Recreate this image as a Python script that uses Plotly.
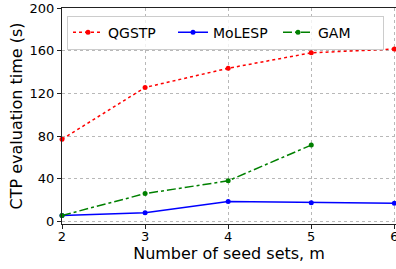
import plotly.graph_objects as go

seed_sets = [2, 3, 4, 5, 6]
qgstp = [77, 125.5, 143.5, 158, 161.5]
molesp = [5.5, 8, 18.5, 17.5, 17]
gam_x = [2, 3, 4, 5]
gam = [5.5, 26, 38, 71.5]

fig = go.Figure()
fig.add_trace(go.Scatter(x=seed_sets, y=qgstp, name="QGSTP", mode="lines+markers",
                         line=dict(color="red", dash="dot", width=1.5),
                         marker=dict(size=5, color="red"), cliponaxis=False))
fig.add_trace(go.Scatter(x=seed_sets, y=molesp, name="MoLESP", mode="lines+markers",
                         line=dict(color="blue", width=1.5),
                         marker=dict(size=5, color="blue"), cliponaxis=False))
fig.add_trace(go.Scatter(x=gam_x, y=gam, name="GAM", mode="lines+markers",
                         line=dict(color="green", dash="dashdot", width=1.5),
                         marker=dict(size=5, color="green"), cliponaxis=False))

axis_common = dict(showline=True, linecolor="#222222", linewidth=1.2, mirror=True,
                   showgrid=True, gridcolor="#b8b8b8", griddash="dot", gridwidth=1,
                   ticks="outside", ticklen=4, tickcolor="#222222", zeroline=False,
                   automargin=False, ticklabeloverflow="allow",
                   tickfont=dict(family="DejaVu Sans", size=13, color="black"))

fig.update_xaxes(range=[2, 6.02], tickvals=[2, 3, 4, 5, 6], ticklabelstandoff=-4,
                 title=dict(text="Number of seed sets, m", font=dict(family="DejaVu Sans", size=16, color="black"), standoff=2),
                 **axis_common)
fig.update_yaxes(range=[-2.5, 200], tickvals=[0, 40, 80, 120, 160, 200],
                 title=dict(text="CTP evaluation time (s)", font=dict(family="DejaVu Sans", size=16, color="black"), standoff=2),
                 **axis_common)

fig.update_layout(width=396, height=269, margin=dict(l=62, r=0, t=8, b=45),
                  plot_bgcolor="white", paper_bgcolor="white",
                  font=dict(family="DejaVu Sans", color="black"),
                  legend=dict(orientation="h", x=0.015, xanchor="left", y=0.965, yanchor="top",
                              bgcolor="rgba(255,255,255,0.8)", bordercolor="#cccccc", borderwidth=1,
                              font=dict(family="DejaVu Sans", size=14), itemwidth=30,
                              entrywidth=60),
                  showlegend=True)

fig.write_html("out.html", config={"displayModeBar": False},
               post_script="document.body.style.margin='0';document.body.style.overflow='hidden';")
